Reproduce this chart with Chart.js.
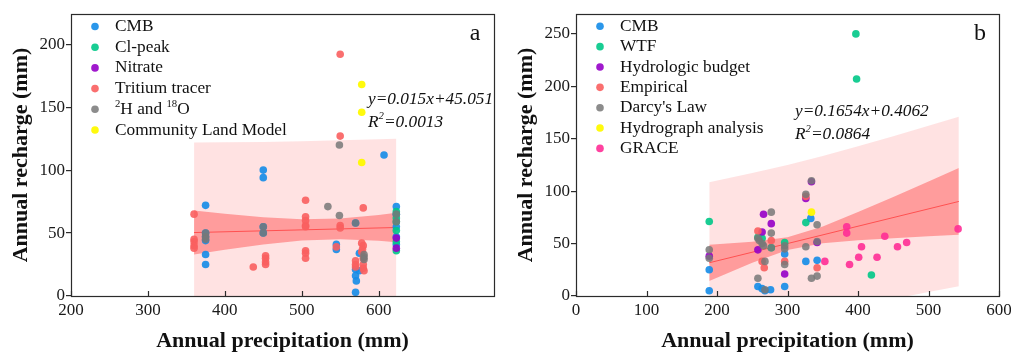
<!DOCTYPE html>
<html>
<head>
<meta charset="utf-8">
<script src="https://cdn.jsdelivr.net/npm/chart.js@4.4.1/dist/chart.umd.min.js"></script>
<style>
  html, body { margin: 0; padding: 0; background: #fff; }
  #wrap { position: relative; width: 1011px; height: 353px; }
  canvas { position: absolute; top: 0; }
  #ca { left: 0; }
  #cb { left: 505px; }
</style>
</head>
<body>
<div id="wrap">
  <canvas id="ca" width="505" height="353"></canvas>
  <canvas id="cb" width="506" height="353"></canvas>
</div>
<script>
// ---- panel a ----
const aNames = ["CMB", "Cl-peak", "Nitrate", "Tritium tracer", "^2^H and ^18^O", "Community Land Model"];
const aCMB = [[375,72],[375,50],[375,47],[375,44],[375,33],[375,25],[450,100],[450,94],[450,55],[450,50],
  [545,41],[545,37],[570,58],[570,21],[570,16],[571,12],[570,3],[575,34],[575,20],[607,112],
  [623,71],[623,65],[623,55],[623,47],[623,41]];
const aClPeak = [[623,67],[623,62],[623,59],[623,52],[623,43],[623,36]];
const aNitrate = [[623,46],[623,38]];
const aTritium = [[360,65],[360,45],[360,43],[360,40],[360,38],[437,23],[453,32],[453,30],[453,27],[453,25],
  [505,76],[505,63],[505,60],[505,56],[505,55],[505,36],[505,34],[505,30],[545,39],
  [550,192],[550,127],[550,56],[550,54],[570,28],[570,25],[570,23],
  [578,42],[580,70],[580,40],[579,37],[578,35],[580,30],[580,25],[580,22],[581,20]];
const aIsotope = [[375,50],[375,47],[375,45],[450,55],[450,50],[534,71],[549,120],[549,64],[570,58],
  [581,33],[581,31],[581,29],[623,65],[623,59]];
const aCLM = [[578,168],[578,146],[578,106]];
const aBandX = [360, 400, 450, 500, 550, 600, 623];
const aConfLow = [33, 36.7, 41, 44.1, 45.1, 43.8, 42.7];
const aConfHigh = [68, 65.4, 62.6, 61, 61.5, 64.3, 66.1];
const aPredLow = [-21, -20, -19, -18, -17, -16.5, -16];
const aPredHigh = [122, 122.1, 122.4, 123, 123.8, 124.6, 125];
const aFitX = [360, 623];
const aFitY = [50.4, 54.4];

// ---- panel b ----
const bNames = ["CMB", "WTF", "Hydrologic budget", "Empirical", "Darcy's Law", "Hydrograph analysis", "GRACE"];
const bCMB = [[189,25],[189,5],[258,9],[264,7],[268,5],[276,6],[296,40],[296,9],[326,33],[333,74],[342,34]];
const bWTF = [[189,71],[258,56],[264,55],[277,46],[296,51],[326,70],[397,250],[398,207],[419,20]];
const bHydro = [[189,38],[258,44],[264,61],[266,78],[277,69],[296,21],[326,93],[334,109],[342,51]];
const bEmpirical = [[258,62],[264,33],[267,27],[277,53],[296,33],[326,95],[342,27]];
const bDarcy = [[189,44],[189,36],[258,17],[258,55],[260,53],[264,50],[266,48],[268,33],[268,6],
  [277,80],[277,60],[277,46],[296,48],[296,45],[296,30],[326,97],[326,47],[334,110],[334,17],
  [342,68],[342,52],[342,19]];
const bHydrograph = [[334,80]];
const bGRACE = [[353,33],[384,66],[384,60],[388,30],[401,37],[405,47],[427,37],[438,57],[456,47],[469,51],[542,64]];
const bBandX = [189, 250, 300, 350, 400, 450, 500, 543];
const bConfLow = [14.4, 31.8, 43.9, 50.2, 53.1, 55.1, 56.9, 58.4];
const bConfHigh = [49, 51.8, 56.1, 66.3, 80.1, 94.5, 109.3, 122];
const bPredLow = [-45, -33.7, -25, -17, -9.7, -2.8, 3.8, 9.4];
const bPredHigh = [108.5, 117.3, 125, 133.6, 142.9, 152.4, 162.4, 171];
const bFitX = [189, 543];
const bFitY = [31.7, 90.2];

const colCMB = "rgba(20,140,232,0.9)";
const colGreen = "rgba(0,200,135,0.9)";
const colPurple = "rgba(150,0,200,0.9)";
const colRed = "rgba(250,95,95,0.9)";
const colGray = "rgba(120,120,120,0.85)";
const colYellow = "rgba(255,250,0,0.95)";
const colPink = "rgba(255,45,150,0.9)";

const serif = '"Liberation Serif", "Times New Roman", serif';

function rich(ctx, text, x, y, size, style) {
  let cx = x;
  text.split("^").forEach((t, i) => {
    if (!t) return;
    const sup = i % 2 === 1;
    const s = sup ? size * 0.62 : size;
    ctx.font = style + " " + s + "px " + serif;
    ctx.fillText(t, cx, sup ? y - size * 0.32 : y);
    cx += ctx.measureText(t).width;
  });
}

const decor = {
  id: "decor",
  afterDraw(chart, args, o) {
    const { ctx, chartArea: a, scales: { x } } = chart;
    ctx.save();
    ctx.strokeStyle = "#2b2b2b";
    ctx.lineWidth = 1.2;
    x.ticks.forEach(t => {
      const px = Math.round(x.getPixelForValue(t.value)) + 0.5;
      ctx.beginPath();
      ctx.moveTo(px, a.bottom);
      ctx.lineTo(px, a.bottom - 5);
      ctx.stroke();
    });
    ctx.strokeRect(a.left + 0.5, a.top + 0.5, a.right - a.left, a.bottom - a.top);

    ctx.fillStyle = "#111";
    ctx.textBaseline = "middle";
    ctx.textAlign = "left";
    o.names.forEach((n, i) => {
      const cy = o.legTop + i * o.legStep;
      ctx.beginPath();
      ctx.fillStyle = o.colors[i];
      ctx.arc(o.legX, cy, 3.8, 0, Math.PI * 2);
      ctx.fill();
      ctx.fillStyle = "#111";
      rich(ctx, n, o.legX + 20, cy, 17.3, "normal");
    });

    rich(ctx, o.eq[0], o.eqX, o.eqY, 17.3, "italic");
    rich(ctx, o.eq[1], o.eqX, o.eqY + 23, 17.3, "italic");

    ctx.textAlign = "center";
    ctx.font = "24px " + serif;
    ctx.fillText(o.tag, a.right - 19, a.top + 20);

    ctx.font = "bold 22px " + serif;
    ctx.fillText("Annual precipitation (mm)", (a.left + a.right) / 2, 341);
    ctx.translate(21, (a.top + a.bottom) / 2);
    ctx.rotate(-Math.PI / 2);
    ctx.fillText("Annual recharge (mm)", 0, 0);
    ctx.restore();
  }
};

function pts(arr) { return arr.map(p => ({ x: p[0], y: p[1] })); }
function band(xs, ys) { return xs.map((x, i) => ({ x: x, y: ys[i] })); }

function makeChart(id, c) {
  const datasets = [
    { type: "line", data: band(c.bx, c.pl), borderWidth: 0, pointRadius: 0, fill: false, order: 40 },
    { type: "line", data: band(c.bx, c.ph), borderWidth: 0, pointRadius: 0, fill: "-1",
      backgroundColor: "rgba(255,60,60,0.15)", order: 39 },
    { type: "line", data: band(c.bx, c.cl), borderWidth: 0, pointRadius: 0, fill: false, order: 38 },
    { type: "line", data: band(c.bx, c.ch), borderWidth: 0, pointRadius: 0, fill: "-1",
      backgroundColor: "rgba(255,70,70,0.45)", order: 37 },
    { type: "line", data: band(c.fx, c.fy), borderColor: "rgb(255,80,80)", borderWidth: 1,
      pointRadius: 0, fill: false, order: 36 }
  ];
  c.series.forEach((s, i) => {
    datasets.push({
      type: "scatter", data: pts(s), backgroundColor: c.colors[i], borderWidth: 0,
      pointRadius: 3.8, order: 20 - i
    });
  });
  const tickFont = { family: serif, size: 17 };
  return new Chart(document.getElementById(id), {
    type: "scatter",
    data: { datasets: datasets },
    plugins: [decor],
    options: {
      responsive: false,
      animation: false,
      devicePixelRatio: 1,
      layout: { padding: { top: 14, right: c.padR, left: 0, bottom: 0 } },
      plugins: {
        legend: { display: false },
        tooltip: { enabled: false },
        decor: { names: c.names, colors: c.colors, legX: 95, legTop: c.legTop, legStep: c.legStep,
                 eq: c.eq, eqX: c.eqX, eqY: c.eqY, tag: c.tag }
      },
      scales: {
        x: {
          type: "linear", min: c.xMin, max: c.xMax,
          ticks: { stepSize: 100, padding: 4, color: "#1a1a1a", font: tickFont, maxRotation: 0 },
          grid: { drawOnChartArea: false, drawTicks: false },
          border: { display: false },
          afterBuildTicks: s => { s.ticks = s.ticks.filter(t => t.value % 100 === 0); },
          afterFit: s => { s.height = 57; s.paddingLeft = 0; s.paddingRight = 0; }
        },
        y: {
          type: "linear", min: 0, max: c.yMax,
          ticks: { stepSize: 50, padding: 1, color: "#1a1a1a", font: tickFont },
          grid: { drawOnChartArea: false, drawTicks: true, tickLength: 5, color: "#2b2b2b", lineWidth: 1.2 },
          border: { display: false },
          afterBuildTicks: s => { s.ticks = s.ticks.filter(t => t.value % 50 === 0); },
          afterFit: s => { s.width = 71; s.paddingTop = 0; s.paddingBottom = 0; }
        }
      }
    }
  });
}

makeChart("ca", {
  names: aNames,
  series: [aCMB, aClPeak, aNitrate, aTritium, aIsotope, aCLM],
  colors: [colCMB, colGreen, colPurple, colRed, colGray, colYellow],
  bx: aBandX, cl: aConfLow, ch: aConfHigh, pl: aPredLow, ph: aPredHigh, fx: aFitX, fy: aFitY,
  xMin: 200, xMax: 750, yMax: 224, padR: 11,
  legTop: 26.5, legStep: 20.7,
  eq: ["y=0.015x+45.051", "R^2^=0.0013"], eqX: 368, eqY: 99, tag: "a"
});

makeChart("cb", {
  names: bNames,
  series: [bCMB, bWTF, bHydro, bEmpirical, bDarcy, bHydrograph, bGRACE],
  colors: [colCMB, colGreen, colPurple, colRed, colGray, colYellow, colPink],
  bx: bBandX, cl: bConfLow, ch: bConfHigh, pl: bPredLow, ph: bPredHigh, fx: bFitX, fy: bFitY,
  xMin: 0, xMax: 600, yMax: 269, padR: 12,
  legTop: 26.3, legStep: 20.35,
  eq: ["y=0.1654x+0.4062", "R^2^=0.0864"], eqX: 290, eqY: 111.5, tag: "b"
});
</script>
</body>
</html>
